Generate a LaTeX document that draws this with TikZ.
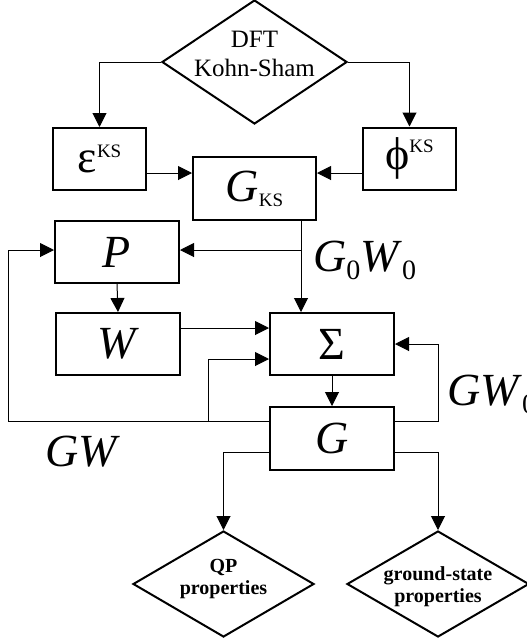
\documentclass[tikz,border=0pt]{standalone}
\usepackage{fontspec}
\setmainfont{Liberation Serif}
\usetikzlibrary{arrows.meta, positioning, shapes.geometric, calc}

\tikzset{
  blk/.style={draw, line width=2pt, minimum width=124pt, minimum height=62pt, inner sep=0pt, font=\fontsize{46}{50}\selectfont},
  dmd/.style={draw, diamond, line width=2pt, inner sep=0pt},
  conn/.style={line width=1pt, -{Triangle[length=14pt, width=14pt]}},
  biglbl/.style={font=\fontsize{46}{50}\selectfont, anchor=base west, inner sep=0pt},
  propfont/.style={font=\fontsize{20}{22}\bfseries\selectfont, align=center, inner sep=0pt}
}
\newcommand{\ksidx}[1]{{\fontsize{19}{20}\selectfont #1}}
\newcommand{\zsub}{\raisebox{-8pt}{\fontsize{28}{30}\selectfont 0}}

\begin{document}
\begin{tikzpicture}[x=1pt, y=-1pt]
    \useasboundingbox (0,0) rectangle (527,641);

    \node[dmd, minimum width=185pt, minimum height=124pt] (dft) at (254.5,62) {};
    \node[font=\fontsize{25}{29}\selectfont, align=center, inner sep=0pt] (dfttext) at (254.5,54) {DFT\\Kohn-Sham};

    \node[blk, minimum width=93pt] (eps) at (99.5,159) {ε\raisebox{15pt}{\ksidx{KS}}};
    \node[blk, minimum width=93pt] (phi) at (409.5,158.5) {ϕ\raisebox{17pt}{\ksidx{KS}}};
    \node[blk, minimum width=123pt, minimum height=63pt] (gks) at (254.5,188.5) {\textit{G}\raisebox{-5pt}{\ksidx{KS}}};
    \node[blk] (P) at (117,252) {\textit{P}};
    \node[blk] (W) at (118,344) {\textit{W}};
    \node[blk] (sig) at (332,344) {Σ};
    \node[blk, minimum height=63pt] (G) at (332,438.5) {\textit{G}};

    \node[dmd, minimum width=181pt, minimum height=106pt] (qp) at (223.5,584) {};
    \node[propfont] (qptext) at (223.5,579) {QP\\properties};
    \node[dmd, minimum width=182pt, minimum height=106pt] (gs) at (438,584) {};
    \node[propfont] (gstext) at (438,587) {ground-state\\properties};

    \node[biglbl] (lblgzwz) at (313,271) {\textit{G}\zsub\textit{W}\zsub};
    \node[biglbl] (lblgwz) at (447,405) {\textit{GW}\zsub};
    \node[biglbl] (lblgw) at (45,466) {\textit{GW}};

    \coordinate (rowks) at (0,173);
    \coordinate (rowp) at (0,250);
    \coordinate (roww) at (0,328);
    \coordinate (rowgw) at (0,359);
    \coordinate (rowloop) at (0,421);
    \coordinate (rowout) at (0,452);
    \coordinate (colks) at (301,0);
    \coordinate (colleft) at (8,0);
    \coordinate (colgw) at (208,0);
    \coordinate (colright) at (438,0);

    \draw[conn] (dft.west) -| (eps.north);
    \draw[conn] (dft.east) -| (phi.north);
    \draw[conn] (eps.east |- rowks) -- (gks.west |- rowks);
    \draw[conn] (phi.west |- rowks) -- (gks.east |- rowks);
    \draw[conn] (gks.south -| colks) -- (sig.north -| colks);
    \draw[conn] (colks |- rowp) -- (P.east |- rowp);
    \draw[conn] (P.south) -- (W.north);
    \draw[conn] (W.east |- roww) -- (sig.west |- roww);
    \draw[conn] (sig.south) -- (G.north);
    \draw[conn] (G.west |- rowloop) -| (colleft |- rowp) -- (P.west |- rowp);
    \draw[conn] (colgw |- rowloop) |- (sig.west |- rowgw);
    \draw[conn] (G.east |- rowloop) -| (colright |- sig.east) -- (sig.east);
    \draw[conn] (G.west |- rowout) -| (qp.north);
    \draw[conn] (G.east |- rowout) -| (gs.north);
\end{tikzpicture}
\end{document}
